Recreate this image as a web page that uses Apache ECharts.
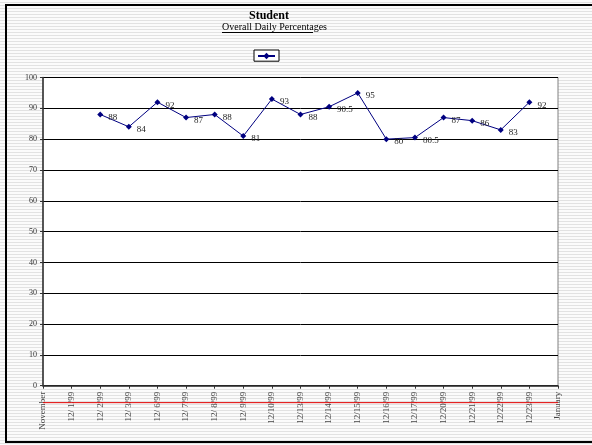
<!DOCTYPE html>
<html>
<head>
<meta charset="utf-8">
<script src="https://cdn.jsdelivr.net/npm/echarts@6/dist/echarts.min.js"></script>
<style>
  html, body { margin: 0; padding: 0; }
  #chart { width: 592px; height: 445px; }
</style>
</head>
<body>
<div id="chart"></div>
<script>
// categories along the bottom (November and January are the end markers)
const days = [
  "November", "12/ 1/99", "12/ 2/99", "12/ 3/99", "12/ 6/99", "12/ 7/99", "12/ 8/99",
  "12/ 9/99", "12/10/99", "12/13/99", "12/14/99", "12/15/99", "12/16/99",
  "12/17/99", "12/20/99", "12/21/99", "12/22/99", "12/23/99", "January"
];
// daily percentages (blank where no score)
const percentages = [
  null, null, 88, 84, 92, 87, 88, 81, 93, 88, 90.5, 95, 80, 80.5, 87, 86, 83, 92, null
];
// red baseline drawn just under the axis
const baseline = days.map(() => -5.5);
const yTicks = [0, 10, 20, 30, 40, 50, 60, 70, 80, 90, 100];

const serif = "'Liberation Serif', 'DejaVu Serif', serif";

// striped grey backdrop like the original sheet
const stripe = document.createElement("canvas");
stripe.width = 4;
stripe.height = 3;
const sctx = stripe.getContext("2d");
sctx.fillStyle = "#fbfbfb";
sctx.fillRect(0, 0, 4, 3);
sctx.fillStyle = "#e2e2e2";
sctx.fillRect(0, 2, 4, 1);

const chart = echarts.init(document.getElementById("chart"));
chart.setOption({
  animation: false,
  backgroundColor: { image: stripe, repeat: "repeat" },
  graphic: [
    {
      type: "rect",
      shape: { x: 6, y: 5, width: 600, height: 437 },
      style: { fill: null, stroke: "#000", lineWidth: 2 },
      z: 100,
    },
    {
      type: "text",
      left: 249,
      top: 10,
      style: {
        text: "Student",
        font: "bold 12px " + serif,
        fill: "#000",
      },
    },
    {
      type: "text",
      left: 222,
      top: 22,
      style: {
        text: "Overall Daily Percentages",
        font: "10px " + serif,
        fill: "#000",
      },
    },
    {
      type: "line",
      shape: { x1: 222, y1: 32.5, x2: 313, y2: 32.5 },
      style: { stroke: "#000", lineWidth: 1 },
    },
  ],
  legend: {
    data: ["Student"],
    left: 254,
    top: 50,
    padding: [2, 3],
    itemWidth: 17,
    itemHeight: 8,
    itemGap: 0,
    borderColor: "#000",
    borderWidth: 1,
    backgroundColor: "#fff",
    formatter: () => "",
    textStyle: { fontSize: 1 },
  },
  grid: {
    left: 43,
    right: 34,
    top: 77.5,
    bottom: 59.3,
    show: true,
    backgroundColor: "#fff",
    borderColor: "#808080",
    borderWidth: 1,
  },
  xAxis: {
    type: "category",
    data: days,
    boundaryGap: false,
    axisLine: { lineStyle: { color: "#333", width: 1.5 } },
    axisTick: { show: true, length: 3, lineStyle: { color: "#333" } },
    axisLabel: {
      rotate: 90,
      interval: 0,
      fontFamily: serif,
      fontSize: 9,
      color: "#444",
      margin: 6,
    },
  },
  yAxis: {
    type: "value",
    min: yTicks[0],
    max: yTicks[yTicks.length - 1],
    interval: 10,
    axisLine: { show: true, lineStyle: { color: "#333", width: 1.5 } },
    axisTick: { show: true, length: 3, lineStyle: { color: "#333" } },
    axisLabel: {
      fontFamily: serif,
      fontSize: 8,
      color: "#333",
      margin: 6,
    },
    splitLine: { lineStyle: { color: "#000", width: 1 } },
  },
  series: [
    {
      name: "Student",
      type: "line",
      data: percentages,
      connectNulls: false,
      symbol: "diamond",
      symbolSize: 6,
      color: "#000080",
      lineStyle: { color: "#000080", width: 1 },
      itemStyle: { color: "#000080" },
      label: {
        show: true,
        position: "right",
        offset: [0, 3],
        fontFamily: serif,
        fontSize: 9,
        color: "#222",
      },
    },
    {
      name: "baseline",
      type: "line",
      data: baseline,
      clip: false,
      symbol: "none",
      silent: true,
      lineStyle: { color: "#e00000", width: 1 },
      z: 3,
    },
  ],
});
</script>
</body>
</html>
